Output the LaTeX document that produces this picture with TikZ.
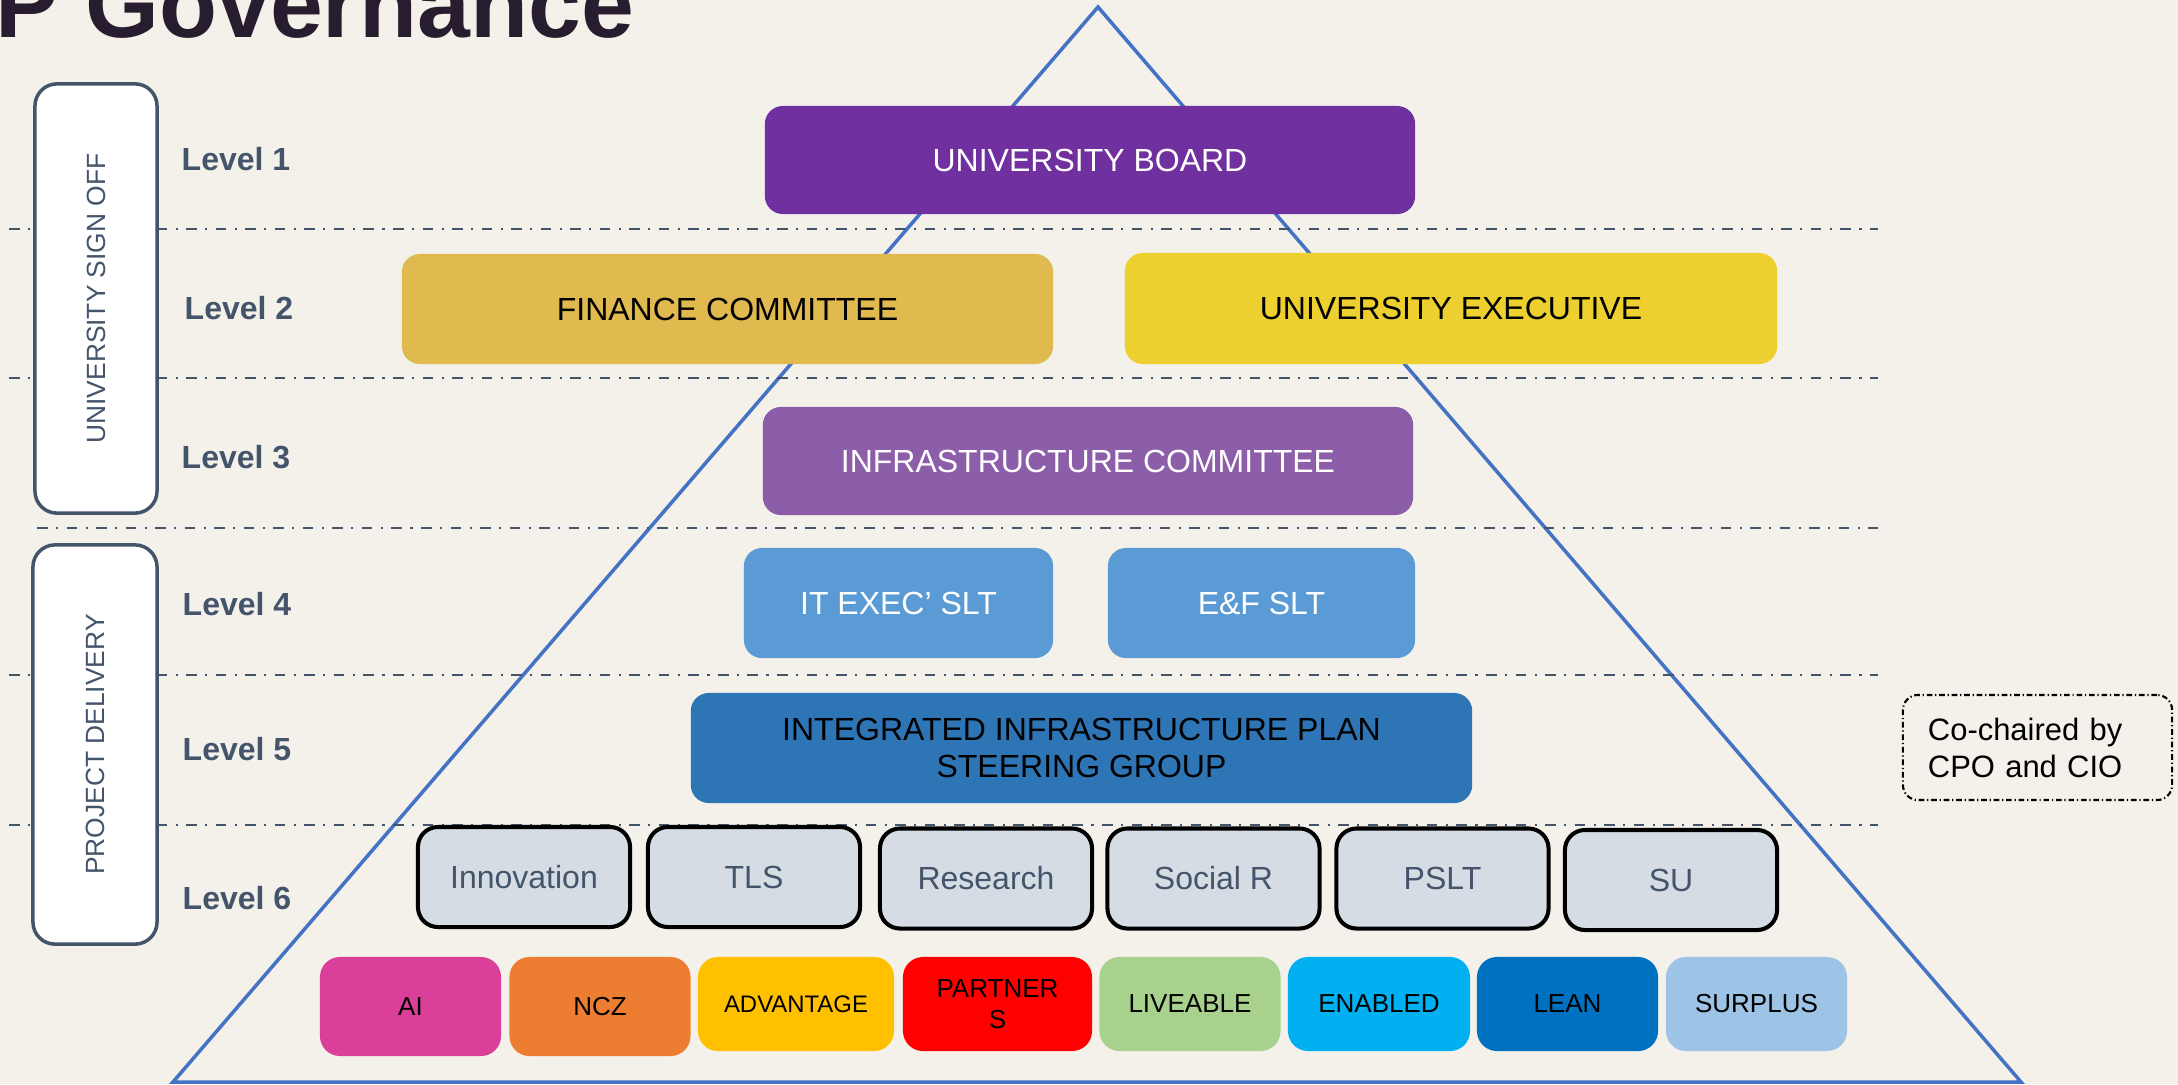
\documentclass[tikz,border=0pt]{standalone}
\usepackage{fontspec}
\setmainfont{Liberation Sans}
\definecolor{paper}{HTML}{F4F1EA}
\definecolor{slate}{HTML}{44546A}
\definecolor{titleink}{HTML}{271D2E}
\definecolor{pyramid}{HTML}{4472C4}
\definecolor{board}{HTML}{7030A0}
\definecolor{finance}{HTML}{E0B94F}
\definecolor{exec}{HTML}{EDD02F}
\definecolor{infra}{HTML}{8C5DA8}
\definecolor{slt}{HTML}{5B9BD5}
\definecolor{steer}{HTML}{2E75B6}
\definecolor{unitfill}{HTML}{D6DCE4}
\definecolor{ai}{HTML}{DA4099}
\definecolor{ncz}{HTML}{ED7D31}
\definecolor{advantage}{HTML}{FFC000}
\definecolor{partners}{HTML}{FF0000}
\definecolor{liveable}{HTML}{A9D18E}
\definecolor{enabled}{HTML}{00B0F0}
\definecolor{lean}{HTML}{0070C0}
\definecolor{surplus}{HTML}{9DC3E6}
\begin{document}
\begin{tikzpicture}[x=0.01cm, y=-0.01cm,
  pyr/.style={draw=pyramid, line width=1pt},
  sep/.style={draw=slate, line width=0.8pt, dash pattern=on 3pt off 2.4pt on 0.6pt off 2.4pt},
  slab/.style={rounded corners=0.18cm, minimum height=1.1cm, inner sep=0pt, align=center, font=\fontsize{9.1}{10.5}\selectfont},
  unit/.style={draw=black, line width=1.15pt, fill=unitfill, rounded corners=0.2cm, minimum width=2.12cm, minimum height=1cm, text=slate, font=\fontsize{9.1}{10.5}\selectfont},
  theme/.style={rounded corners=0.2cm, minimum width=1.81cm, minimum height=0.94cm, inner sep=0pt, align=center, font=\fontsize{7.4}{8.8}\selectfont},
  side/.style={draw=slate, line width=1pt, fill=white, rounded corners=0.22cm, rotate=90, text=slate, font=\fontsize{7.5}{9}\selectfont},
  level/.style={anchor=west, inner sep=0pt, text=slate, font=\bfseries\fontsize{9.1}{10.5}\selectfont},
  note/.style={draw=black, line width=0.6pt, dash pattern=on 1.6pt off 0.8pt on 0.35pt off 0.8pt, rounded corners=0.15cm, minimum height=1.05cm, text width=2.19cm, inner xsep=0.25cm, align=left, font=\fontsize{8.8}{10.5}\selectfont},
]
\useasboundingbox (0,0) rectangle (2178,1084);
\fill[paper] (0,0) rectangle (2178,1084);

\node[anchor=base west, inner sep=0pt, text=titleink, font=\bfseries\fontsize{27}{32}\selectfont] (title) at (-5,37.5) {P Governance};

\coordinate (apex) at (1098,7);
\coordinate (baseL) at (173,1082);
\coordinate (baseR) at (2021,1082);
\draw[pyr] (apex) -- (baseL) -- (baseR) -- cycle;

\draw[sep] (9,229) -- (1878,229);
\draw[sep] (9,378) -- (1878,378);
\draw[sep] (37,528) -- (1878,528);
\draw[sep] (9,675) -- (1878,675);
\draw[sep] (9,825) -- (1878,825);

\node[side, minimum width=4.29cm, minimum height=1.22cm] (signoff) at (96,298.5) {UNIVERSITY SIGN OFF};
\node[side, minimum width=3.99cm, minimum height=1.24cm] (delivery) at (95,744.5) {PROJECT DELIVERY};

\node[level] (lvl1) at (181,159) {Level 1};
\node[level] (lvl2) at (184,308) {Level 2};
\node[level] (lvl3) at (181,457) {Level 3};
\node[level] (lvl4) at (182,604) {Level 4};
\node[level] (lvl5) at (182,749) {Level 5};
\node[level] (lvl6) at (182,898) {Level 6};

\node[slab, fill=board, text=white, minimum width=6.5cm, minimum height=1.08cm] (board) at (1090,160) {UNIVERSITY BOARD};
\node[slab, fill=finance, minimum width=6.51cm] (finance) at (727.5,309) {FINANCE COMMITTEE};
\node[slab, fill=exec, minimum width=6.52cm, minimum height=1.11cm] (exec) at (1451,308.5) {UNIVERSITY EXECUTIVE};
\node[slab, fill=infra, text=white, minimum width=6.5cm, minimum height=1.08cm] (infra) at (1088,461) {INFRASTRUCTURE COMMITTEE};
\node[slab, fill=slt, text=white, minimum width=3.09cm] (itexec) at (898.5,603) {IT EXEC’ SLT};
\node[slab, fill=slt, text=white, minimum width=3.07cm] (ef) at (1261.5,603) {E\&F SLT};
\node[slab, fill=steer, minimum width=7.81cm] (steer) at (1081.5,748) {INTEGRATED INFRASTRUCTURE PLAN\\STEERING GROUP};

\node[unit] (innov) at (524,877) {Innovation};
\node[unit] (tls) at (754,877) {TLS};
\node[unit] (research) at (986,878.5) {Research};
\node[unit] (social) at (1213.5,878.5) {Social R};
\node[unit] (pslt) at (1442.5,878.5) {PSLT};
\node[unit] (su) at (1671,880) {SU};

\node[theme, fill=ai, minimum height=0.99cm] (ai) at (410.5,1006.5) {AI};
\node[theme, fill=ncz, minimum height=0.99cm] (ncz) at (600,1006.5) {NCZ};
\node[theme, fill=advantage, minimum width=1.96cm, font=\fontsize{6.8}{8}\selectfont] (advantage) at (796,1004) {ADVANTAGE};
\node[theme, fill=partners, minimum width=1.89cm] (partners) at (997.5,1004) {PARTNER\\S};
\node[theme, fill=liveable] (liveable) at (1190,1004) {LIVEABLE};
\node[theme, fill=enabled, minimum width=1.82cm] (enabled) at (1379,1004) {ENABLED};
\node[theme, fill=lean] (lean) at (1567.5,1004) {LEAN};
\node[theme, fill=surplus] (surplus) at (1756.5,1004) {SURPLUS};

\node[note] (cochair) at (2037.5,747.5) {Co-chaired by\\CPO and CIO};
\end{tikzpicture}
\end{document}
